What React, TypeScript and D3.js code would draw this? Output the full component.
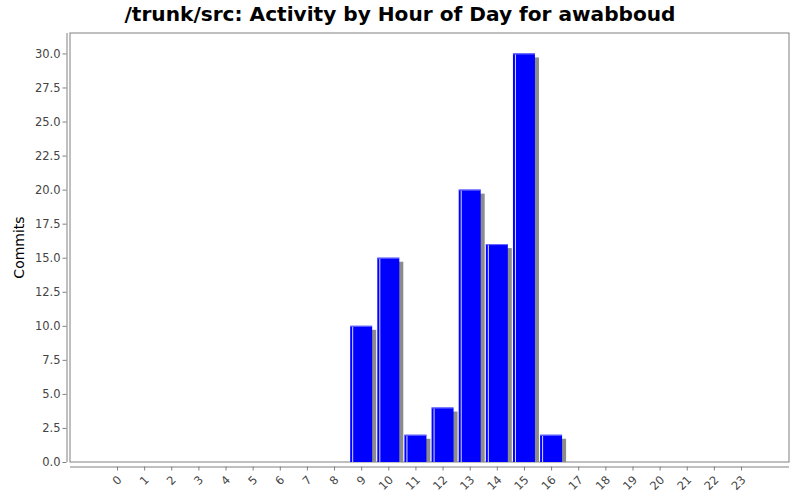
import { useEffect, useRef } from 'react';
import * as d3 from 'd3';

const hours = ['0','1','2','3','4','5','6','7','8','9','10','11','12','13','14','15','16','17','18','19','20','21','22','23'];
const commits = [0,0,0,0,0,0,0,0,0,10,15,2,4,20,16,30,2,0,0,0,0,0,0,0];
const yTicks = [0, 2.5, 5, 7.5, 10, 12.5, 15, 17.5, 20, 22.5, 25, 27.5, 30];

const title = '/trunk/src: Activity by Hour of Day for awabboud';
const yLabel = 'Commits';

const App = () => {
    const svgRef = useRef<SVGSVGElement>(null);

    useEffect(() => {
        if (!svgRef.current) return;
        const svg = d3.select(svgRef.current);
        svg.selectAll('*').remove();

        const width = 800;
        const height = 500;
        const plot = { left: 70, right: 789, top: 33, bottom: 462 };
        const font = 'DejaVu Sans, sans-serif';

        svg.attr('width', width).attr('height', height);
        svg.append('rect').attr('width', width).attr('height', height).attr('fill', '#fff');

        // Title
        svg.append('text')
            .attr('x', width / 2)
            .attr('y', 21)
            .attr('text-anchor', 'middle')
            .attr('font-family', font)
            .attr('font-weight', 'bold')
            .attr('font-size', 19)
            .attr('textLength', 551)
            .attr('lengthAdjust', 'spacingAndGlyphs')
            .attr('fill', '#000')
            .text(title);

        // Scales
        const x = d3.scalePoint<string>()
            .domain(hours)
            .range([117, 741]);
        const barWidth = x.step() * 0.81;

        const y = d3.scaleLinear()
            .domain([0, 31.5])
            .range([plot.bottom, plot.top]);

        // Plot background and border
        svg.append('rect')
            .attr('x', plot.left)
            .attr('y', plot.top)
            .attr('width', plot.right - plot.left)
            .attr('height', plot.bottom - plot.top)
            .attr('fill', '#fff')
            .attr('stroke', '#808080')
            .attr('stroke-width', 1);

        svg.append('clipPath').attr('id', 'plotClip')
            .append('rect')
            .attr('x', plot.left)
            .attr('y', plot.top)
            .attr('width', plot.right - plot.left)
            .attr('height', plot.bottom - plot.top);

        const bars = svg.append('g').attr('clip-path', 'url(#plotClip)');
        const data = hours.map((h, i) => ({ hour: h, value: commits[i] })).filter(d => d.value > 0);

        // Shadows
        bars.selectAll('.shadow')
            .data(data)
            .enter().append('rect')
            .attr('x', d => (x(d.hour) as number) - barWidth / 2 + 4)
            .attr('y', d => y(d.value) + 4)
            .attr('width', barWidth)
            .attr('height', d => plot.bottom - y(d.value))
            .attr('fill', '#8c8c8c');

        // Bars
        bars.selectAll('.bar')
            .data(data)
            .enter().append('rect')
            .attr('x', d => (x(d.hour) as number) - barWidth / 2)
            .attr('y', d => y(d.value))
            .attr('width', barWidth)
            .attr('height', d => plot.bottom - y(d.value))
            .attr('fill', '#0000ff');

        // Highlight
        bars.selectAll('.hl')
            .data(data)
            .enter().append('line')
            .attr('x1', d => (x(d.hour) as number) - barWidth / 2 + 2.5)
            .attr('x2', d => (x(d.hour) as number) - barWidth / 2 + 2.5)
            .attr('y1', d => y(d.value) + 1)
            .attr('y2', plot.bottom)
            .attr('stroke', '#fff')
            .attr('stroke-opacity', 0.85)
            .attr('stroke-width', 1);

        bars.selectAll('.top')
            .data(data)
            .enter().append('line')
            .attr('x1', d => (x(d.hour) as number) - barWidth / 2)
            .attr('x2', d => (x(d.hour) as number) + barWidth / 2)
            .attr('y1', d => y(d.value) + 0.5)
            .attr('y2', d => y(d.value) + 0.5)
            .attr('stroke', '#7070ff')
            .attr('stroke-width', 1);

        // Y axis
        const yAxis = svg.append('g')
            .attr('transform', 'translate(66.5,0)')
            .call(d3.axisLeft(y).tickValues(yTicks).tickSize(4).tickSizeOuter(0).tickFormat(d3.format('.1f')));
        yAxis.select('.domain').attr('stroke', '#808080');
        yAxis.selectAll('.tick line').attr('stroke', '#808080');
        yAxis.selectAll('.tick text')
            .attr('font-family', font)
            .attr('font-size', 11.5)
            .attr('fill', '#444')
            .attr('x', -6);
        yAxis.select('.domain').attr('d', `M0.5,${plot.top}V${plot.bottom}`);

        // X axis
        const xAxis = svg.append('g')
            .attr('transform', 'translate(0,466.5)')
            .call(d3.axisBottom(x).tickSize(4).tickSizeOuter(0));
        xAxis.select('.domain').attr('stroke', '#808080').attr('d', `M${plot.left},0.5H${plot.right}`);
        xAxis.selectAll('.tick line').attr('stroke', '#808080');
        xAxis.selectAll('.tick text')
            .attr('font-family', font)
            .attr('font-size', 11.5)
            .attr('fill', '#444')
            .attr('text-anchor', 'end')
            .attr('dy', null)
            .attr('y', null)
            .attr('transform', 'translate(5,14) rotate(-45)');

        // Y label
        svg.append('text')
            .attr('transform', `translate(24,${(plot.top + plot.bottom) / 2}) rotate(-90)`)
            .attr('text-anchor', 'middle')
            .attr('font-family', font)
            .attr('font-size', 14)
            .attr('fill', '#000')
            .text(yLabel);
    }, []);

    return (
        <svg ref={svgRef} style={{ position: 'absolute', left: 0, top: 0 }}></svg>
    );
};

export default App;
